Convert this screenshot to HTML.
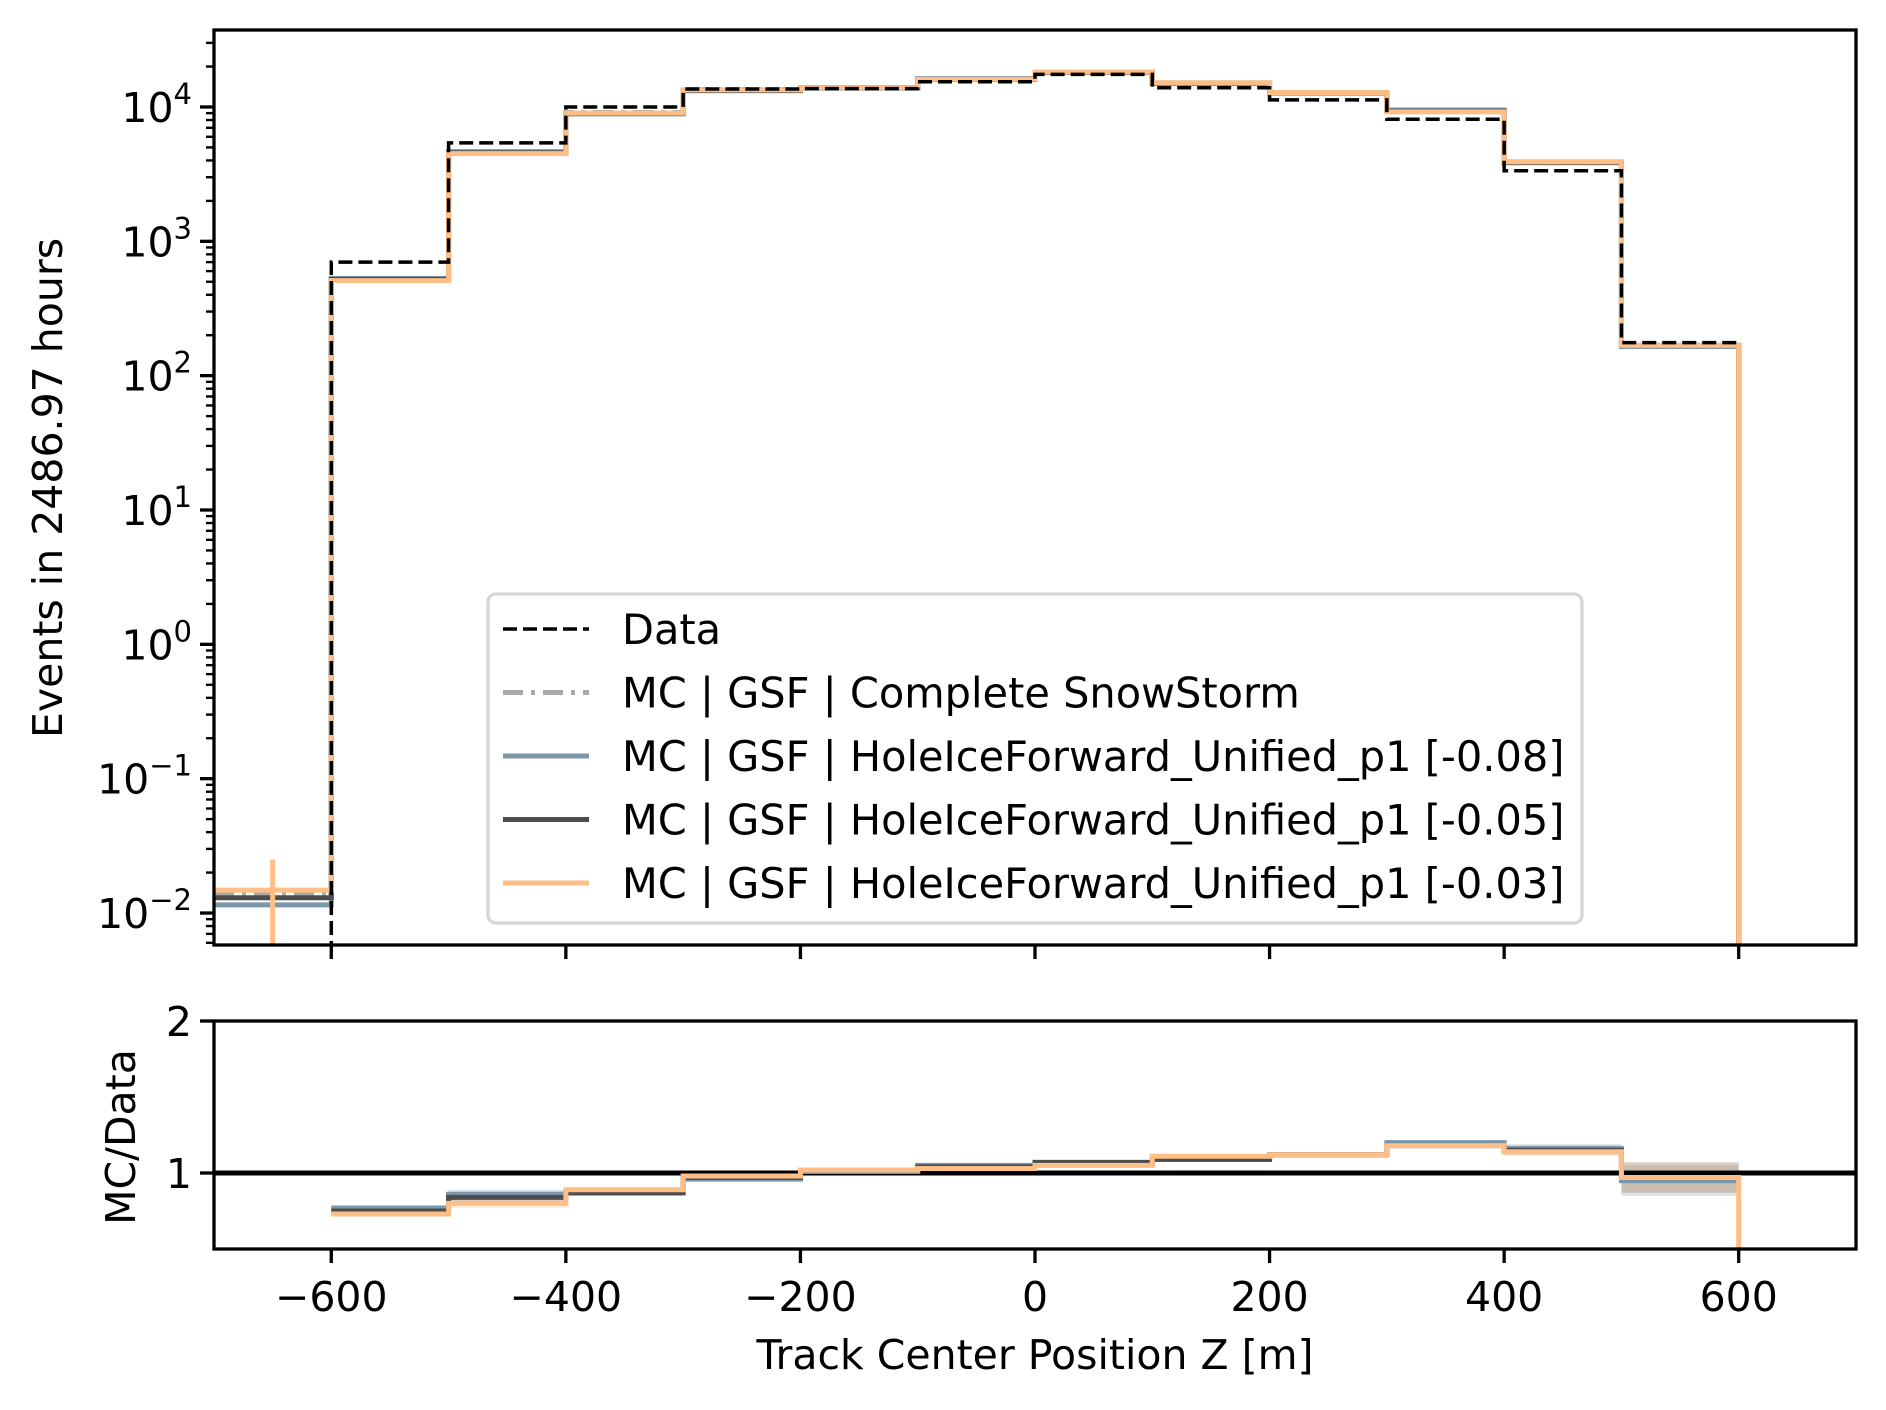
<!DOCTYPE html>
<html><head><meta charset="utf-8"><style>
html,body{margin:0;padding:0;background:#fff}
svg{display:block}
text{font-family:"DejaVu Sans","Liberation Sans",sans-serif;fill:#000}
</style></head><body>
<svg id="chart" width="1886" height="1410" viewBox="0 0 1886 1410" xmlns="http://www.w3.org/2000/svg">
<defs>
<clipPath id="cm"><rect x="214" y="30" width="1642" height="915"/></clipPath>
<clipPath id="cr"><rect x="214" y="1021" width="1642" height="228"/></clipPath>
</defs>
<g id="main"></g>
<g id="ratio"></g>
</svg>
<script>
// bin edges
const edges = [-700,-600,-500,-400,-300,-200,-100,0,100,200,300,400,500,600];
const dataVals = [null,700,5400,10000,13600,13700,15400,17500,13900,11300,8100,3350,176];
const snowVals = [0.014,515,4600,9100,13500,13900,16200,18000,15000,12700,9300,3850,168];
const blueVals = [0.0115,530,4650,9000,13200,13800,16300,18200,15100,12800,9500,3900,165];
const darkVals = [0.013,520,4550,8900,13300,13900,16000,18100,15000,12700,9300,3850,168];
const orangeVals = [0.0148,510,4500,9000,13400,13900,16100,18200,15100,12800,9200,3900,168];
const ratioBlue = [0.77,0.86,0.87,0.96,1.01,1.05,1.06,1.09,1.12,1.20,1.16,0.95];
const ratioDark = [0.75,0.84,0.87,0.97,1.02,1.04,1.07,1.09,1.12,1.18,1.15,0.97];
const ratioOrange = [0.73,0.80,0.89,0.98,1.02,1.03,1.05,1.11,1.12,1.18,1.14,0.97];
const ratioErr = [0.01,0.03,0.02,0.015,0.01,0.01,0.01,0.01,0.01,0.015,0.03,0.10];
const xTicks = [-600,-400,-200,0,200,400,600];
const yExps = [-2,-1,0,1,2,3,4];
const legendLabels = ["Data","MC | GSF | Complete SnowStorm","MC | GSF | HoleIceForward_Unified_p1 [-0.08]","MC | GSF | HoleIceForward_Unified_p1 [-0.05]","MC | GSF | HoleIceForward_Unified_p1 [-0.03]"];

const NS="http://www.w3.org/2000/svg";
const X0=214,X1=1856,XMIN=-700,XMAX=700;
const MT=30,MB=945,LMIN=-2.238,LMAX=4.573;
const RT=1021,RB=1249,RMIN=0.5,RMAX=2;
const xs=v=>X0+(v-XMIN)/(XMAX-XMIN)*(X1-X0);
const ym=v=>MB-(Math.log10(v)-LMIN)/(LMAX-LMIN)*(MB-MT);
const yr=v=>RB-(v-RMIN)/(RMAX-RMIN)*(RB-RT);
function el(tag,attrs,parent,txt){const e=document.createElementNS(NS,tag);for(const k in attrs)e.setAttribute(k,attrs[k]);if(txt!==undefined)e.textContent=txt;parent.appendChild(e);return e;}
const main=document.getElementById('main'),ratio=document.getElementById('ratio');

function stepPath(vals,yf,ed,bottom,dropEnd){
  let d="",started=false;
  for(let i=0;i<vals.length;i++){
    const v=vals[i];if(v===null)continue;
    const xa=xs(ed[i]),xb=xs(ed[i+1]),y=yf(v);
    if(!started){d+=(bottom!==null?`M${xa},${bottom}L${xa},${y}`:`M${xa},${y}`);started=true;}
    else d+=`L${xa},${y}`;
    d+=`L${xb},${y}`;
  }
  if(dropEnd!==null)d+=`L${xs(ed[vals.length])},${dropEnd}`;
  return d;
}
const gm=el('g',{'clip-path':'url(#cm)'},main);
const series=[
 {v:snowVals,c:'#aaaaaa',dash:'20 8 4 8',name:'snowstorm-line'},
 {v:blueVals,c:'#7a97ab',dash:null,name:'p1-minus-0.08-line'},
 {v:darkVals,c:'#4d4d4d',dash:null,name:'p1-minus-0.05-line'},
 {v:orangeVals,c:'#ffbe85',dash:null,name:'p1-minus-0.03-line'}];
series.forEach(s=>{
  const p=el('path',{d:stepPath(s.v,ym,edges,null,MB+10),fill:'none',stroke:s.c,'stroke-width':5,'stroke-dasharray':s.dash||'none'},gm);
  
  
});
const eb=el('line',{x1:xs(-650),x2:xs(-650),y1:ym(0.025),y2:MB+5,stroke:'#ffbe85','stroke-width':5},gm);


const dp=el('path',{d:stepPath(dataVals,ym,edges,MB+10,null),fill:'none',stroke:'#000','stroke-width':3.5,'stroke-dasharray':'14 6'},gm);


el('rect',{x:X0,y:MT,width:X1-X0,height:MB-MT,fill:'none',stroke:'#000','stroke-width':3.3},main);
for(let e=-3;e<=4;e++){
  for(let m=1;m<10;m++){
    const v=m*Math.pow(10,e);const y=ym(v);
    if(y<MT-0.5||y>MB+0.5)continue;
    el('line',{x1:X0,x2:X0-(m===1?14:8),y1:y,y2:y,stroke:'#000','stroke-width':m===1?3.3:2.4},main);
  }
}
yExps.forEach(e=>{
  const t=el('text',{x:X0-22,y:ym(Math.pow(10,e))+15,'text-anchor':'end','font-size':41},main);
  
  
  t.textContent='10';
  el('tspan',{dy:-18,'font-size':29},t,(e<0?'\u2212':'')+Math.abs(e));
});
xTicks.forEach(v=>{
  el('line',{x1:xs(v),x2:xs(v),y1:MB,y2:MB+14,stroke:'#000','stroke-width':3.3},main);
});
const yl=el('text',{x:0,y:0,transform:'translate(62,488) rotate(-90)','text-anchor':'middle','font-size':41},main,'Events in 2486.97 hours');


const lg=el('g',{},main);


el('rect',{x:488,y:594,width:1094,height:329,rx:8,fill:'#fff','fill-opacity':0.8,stroke:'#d6d6d6','stroke-width':3.3},lg);
const lgStyle=[{c:'#000',d:'14 6',w:3.5},{c:'#aaaaaa',d:'20 8 4 8',w:5},{c:'#7a97ab',d:null,w:5},{c:'#4d4d4d',d:null,w:5},{c:'#ffbe85',d:null,w:5}];
legendLabels.forEach((lab,i)=>{
  const y=629+i*63.5;
  const g=el('g',{},lg);
  
  
  el('line',{x1:503,x2:589,y1:y,y2:y,stroke:lgStyle[i].c,'stroke-width':lgStyle[i].w,'stroke-dasharray':lgStyle[i].d||'none'},g);
  el('text',{x:622,y:y+15,'font-size':41.5},g,lab);
});
const gr=el('g',{'clip-path':'url(#cr)'},ratio);
const redges=edges.slice(1);
[ratioBlue,ratioDark,ratioOrange].forEach((arr,k)=>{
  arr.forEach((v,i)=>{
    const r=el('rect',{x:xs(redges[i]),width:xs(redges[i+1])-xs(redges[i]),y:yr(v+ratioErr[i]),height:yr(v-ratioErr[i])-yr(v+ratioErr[i]),fill:['#7a97ab','#4d4d4d','#ffbe85'][k],'fill-opacity':0.25},gr);
    
    
  });
});
el('line',{x1:X0,x2:X1,y1:yr(1),y2:yr(1),stroke:'#000','stroke-width':5},gr);
[[ratioBlue,'#7a97ab','ratio-p1-minus-0.08'],[ratioDark,'#4d4d4d','ratio-p1-minus-0.05'],[ratioOrange,'#ffbe85','ratio-p1-minus-0.03']].forEach(s=>{
  const p=el('path',{d:stepPath(s[0],yr,redges,null,s[1]==='#ffbe85'?RB+10:null),fill:'none',stroke:s[1],'stroke-width':5},gr);
  
  
});
el('rect',{x:X0,y:RT,width:X1-X0,height:RB-RT,fill:'none',stroke:'#000','stroke-width':3.3},ratio);
[1,2].forEach(v=>{
  el('line',{x1:X0,x2:X0-14,y1:yr(v),y2:yr(v),stroke:'#000','stroke-width':3.3},ratio);
  const t=el('text',{x:X0-22,y:yr(v)+15,'text-anchor':'end','font-size':41},ratio,String(v));
  
  
});
xTicks.forEach(v=>{
  el('line',{x1:xs(v),x2:xs(v),y1:RB,y2:RB+14,stroke:'#000','stroke-width':3.3},ratio);
  const t=el('text',{x:xs(v),y:RB+62,'text-anchor':'middle','font-size':41},ratio,(v<0?'\u2212':'')+Math.abs(v));
  
  
});
const rl=el('text',{x:0,y:0,transform:'translate(135,1137) rotate(-90)','text-anchor':'middle','font-size':41},ratio,'MC/Data');


const xl=el('text',{x:1035,y:1369,'text-anchor':'middle','font-size':41},ratio,'Track Center Position Z [m]');


</script>
</body></html>
